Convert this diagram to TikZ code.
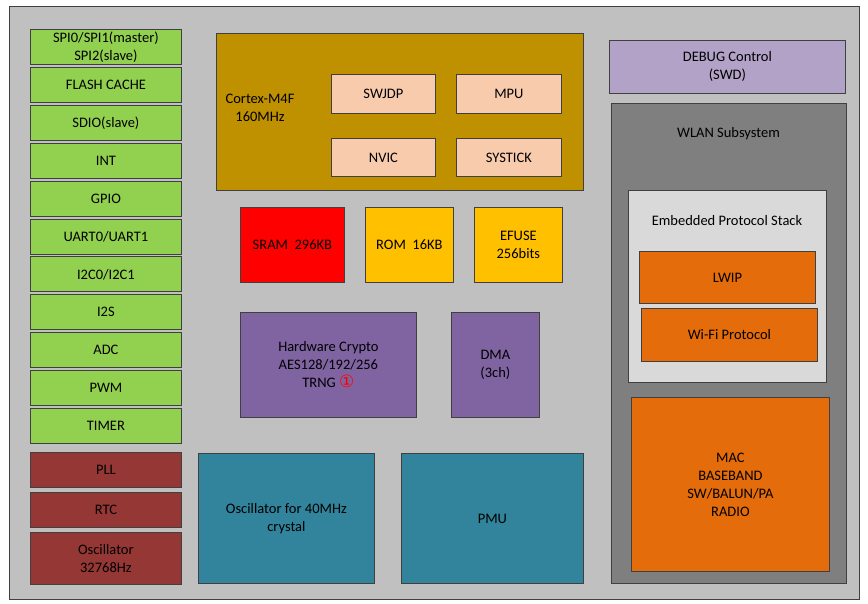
\documentclass[tikz,border=0pt]{standalone}
\usepackage{fontspec}
\setmainfont{Carlito}
\newfontfamily\symfont{DejaVu Sans}
\usetikzlibrary{positioning}

\definecolor{chipgray}{HTML}{C0C0C0}
\definecolor{edgegray}{HTML}{404040}
\definecolor{periph}{HTML}{92D050}
\definecolor{clock}{HTML}{953735}
\definecolor{analog}{HTML}{31849B}
\definecolor{core}{HTML}{BF9000}
\definecolor{corepart}{HTML}{F8CBAD}
\definecolor{sramred}{HTML}{FF0000}
\definecolor{memamber}{HTML}{FFC000}
\definecolor{accel}{HTML}{8064A2}
\definecolor{debugpurple}{HTML}{B3A2C7}
\definecolor{wlangray}{HTML}{7F7F7F}
\definecolor{stackgray}{HTML}{D9D9D9}
\definecolor{wifiorange}{HTML}{E46C0A}

\begin{document}
\begin{tikzpicture}[
x=1pt,y=-1pt,
block/.style={
	draw=edgegray,
	line width=0.8pt,
	anchor=north west,
	inner sep=0pt,
	align=center,
	text=black,
	font=\fontsize{14.5}{18}\selectfont
},
size/.style 2 args={
	minimum width=#1pt,
	minimum height=#2pt
},
label text/.style={
	align=center,
	inner sep=0pt,
	text=black,
	font=\fontsize{14.5}{18}\selectfont
}
]
\useasboundingbox (0,0) rectangle (868,603);

% chip outline
\node[block,fill=chipgray,size={850}{593}] (chip) at (9,6) {};

% peripherals
\foreach \i/\t in {0/{SPI0/SPI1(master)\\SPI2(slave)},1/{FLASH CACHE},2/{SDIO(slave)},
	3/{INT},4/{GPIO},5/{UART0/UART1},6/{I2C0/I2C1},7/{I2S},8/{ADC},9/{PWM},10/{TIMER}}
\node[block,fill=periph,size={151}{35}] (io\i) at (30,{29+37.9*\i}) {\t};

% clocks
\node[block,fill=clock,size={151}{35}] (pll) at (30,452) {PLL};
\node[block,fill=clock,size={151}{35}] (rtc) at (30,492) {RTC};
\node[block,fill=clock,size={151}{52}] (osc32) at (30,532) {Oscillator\\32768Hz};

% core
\node[block,fill=core,size={367}{157}] (cpu) at (216,33) {};
\node[label text] (cpulabel) at (260,108) {Cortex-M4F\\160MHz};
\node[block,fill=corepart,size={104}{39}] (swjdp) at (331,74) {SWJDP};
\node[block,fill=corepart,size={105}{39}] (mpu) at (456,74) {MPU};
\node[block,fill=corepart,size={104}{38}] (nvic) at (331,138) {NVIC};
\node[block,fill=corepart,size={105}{38}] (systick) at (456,138) {SYSTICK};

% memories
\node[block,fill=sramred,size={104}{75}] (sram) at (240,207) {SRAM\ \ 296KB};
\node[block,fill=memamber,size={88}{75}] (rom) at (365,207) {ROM\ \ 16KB};
\node[block,fill=memamber,size={88}{75}] (efuse) at (474,207) {EFUSE\\256bits};

% accelerators
\node[block,fill=accel,size={176}{105}] (crypto) at (240,312)
	{Hardware Crypto\\AES128/192/256\\TRNG {\color{red}\symfont\fontsize{17}{18}\selectfont ①}};
\node[block,fill=accel,size={88}{105}] (dma) at (451,312) {DMA\\(3ch)};

% analog
\node[block,fill=analog,size={176}{130}] (osc40) at (198,453) {Oscillator for 40MHz\\crystal};
\node[block,fill=analog,size={182}{130}] (pmu) at (401,453) {PMU};

% debug and wlan
\node[block,fill=debugpurple,size={236}{53}] (debug) at (609,40) {DEBUG Control\\(SWD)};
\node[block,fill=wlangray,size={235}{480}] (wlan) at (611,103) {};
\node[label text] (wlanlabel) at (728.5,134) {WLAN Subsystem};
\node[block,fill=stackgray,size={198}{192}] (stack) at (628,190) {};
\node[label text] (stacklabel) at (727,221) {Embedded Protocol Stack};
\node[block,fill=wifiorange,size={176}{52}] (lwip) at (639,251) {LWIP};
\node[block,fill=wifiorange,size={176}{53}] (wifi) at (641,308) {Wi-Fi Protocol};
\node[block,fill=wifiorange,size={198}{174}] (radio) at (631,397) {MAC\\BASEBAND\\SW/BALUN/PA\\RADIO};
\end{tikzpicture}
\end{document}
